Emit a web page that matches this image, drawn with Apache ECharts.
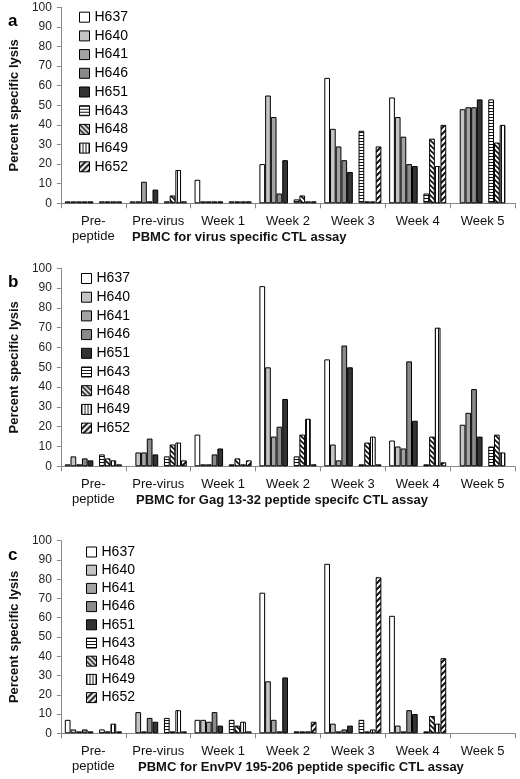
<!DOCTYPE html>
<html><head><meta charset="utf-8">
<script src="https://cdn.jsdelivr.net/npm/echarts@6/dist/echarts.min.js"></script>
<style>html,body{margin:0;padding:0;background:#fff}#c{width:520px;height:779px}</style>
</head><body><div id="c"></div>
<script>
const categories = ['Pre-\npeptide', 'Pre-virus', 'Week 1', 'Week 2', 'Week 3', 'Week 4', 'Week 5'];
const seriesNames = ['H637', 'H640', 'H641', 'H646', 'H651', 'H643', 'H648', 'H649', 'H652'];
const panelLetters = ['a', 'b', 'c'];
const panelTitles = [
  'PBMC for virus specific CTL assay',
  'PBMC for Gag 13-32 peptide specifc CTL assay',
  'PBMC for EnvPV 195-206 peptide specific CTL assay'
];
const yAxisTitle = 'Percent specific lysis';

// Panel a: virus specific
const a_H637 = [1, 1, 12, 20, 64, 54, null];
const a_H640 = [1, 1, 1, 55, 38, 44, 48];
const a_H641 = [1, 11, 1, 44, 29, 34, 49];
const a_H646 = [1, 1, 1, 5, 22, 20, 49];
const a_H651 = [1, 7, 1, 22, 16, 19, 53];
const a_H643 = [1, 1, 1, 2, 37, 5, 53];
const a_H648 = [1, 4, 1, 4, 1, 33, 31];
const a_H649 = [1, 17, 1, 1, 1, 19, 40];
const a_H652 = [1, 1, 1, 1, 29, 40, null];

// Panel b: Gag 13-32
const b_H637 = [1, null, 16, 91, 54, 13, null];
const b_H640 = [5, 7, 1, 50, 11, 10, 21];
const b_H641 = [1, 7, 1, 15, 3, 9, 27];
const b_H646 = [4, 14, 6, 20, 61, 53, 39];
const b_H651 = [3, 6, 9, 34, 50, 23, 15];
const b_H643 = [6, 5, 1, 5, 1, 1, 10];
const b_H648 = [4, 11, 4, 16, 12, 15, 16];
const b_H649 = [3, 12, 1, 24, 15, 70, 7];
const b_H652 = [1, 3, 3, 1, 1, 2, null];

// Panel c: EnvPV 195-206
const c_H637 = [7, null, 7, 73, 88, 61, null];
const c_H640 = [2, 11, 7, 27, 5, 4, null];
const c_H641 = [1, 1, 6, 7, 1, 1, null];
const c_H646 = [2, 8, 11, 1, 2, 12, null];
const c_H651 = [1, 6, 4, 29, 4, 10, null];
const c_H643 = [2, 8, 7, 1, 7, 1, null];
const c_H648 = [1, 1, 4, 1, 1, 9, null];
const c_H649 = [5, 12, 6, 1, 2, 5, null];
const c_H652 = [1, 1, 1, 6, 81, 39, null];

const panelData = [
  [a_H637, a_H640, a_H641, a_H646, a_H651, a_H643, a_H648, a_H649, a_H652],
  [b_H637, b_H640, b_H641, b_H646, b_H651, b_H643, b_H648, b_H649, b_H652],
  [c_H637, c_H640, c_H641, c_H646, c_H651, c_H643, c_H648, c_H649, c_H652]
];

function pattern(kind) {
  const cv = document.createElement('canvas');
  const ctx = cv.getContext('2d');
  if (kind === 'h') {
    cv.width = 4; cv.height = 3;
    ctx.fillStyle = '#fff'; ctx.fillRect(0, 0, 4, 3);
    ctx.fillStyle = '#111'; ctx.fillRect(0, 0, 4, 1);
  } else if (kind === 'v') {
    cv.width = 3; cv.height = 4;
    ctx.fillStyle = '#fff'; ctx.fillRect(0, 0, 3, 4);
    ctx.fillStyle = '#111'; ctx.fillRect(0, 0, 1, 4);
  } else {
    const s = kind === 'b' ? 5 : 6;
    cv.width = s; cv.height = s;
    ctx.fillStyle = '#fff'; ctx.fillRect(0, 0, s, s);
    ctx.strokeStyle = '#111';
    ctx.lineWidth = kind === 'b' ? 1.6 : 2;
    ctx.beginPath();
    if (kind === 'b') {
      ctx.moveTo(0, 0); ctx.lineTo(s, s);
      ctx.moveTo(-s, 0); ctx.lineTo(s, 2 * s);
      ctx.moveTo(0, -s); ctx.lineTo(2 * s, s);
    } else {
      ctx.moveTo(0, s); ctx.lineTo(s, 0);
      ctx.moveTo(-s, s); ctx.lineTo(s, -s);
      ctx.moveTo(0, 2 * s); ctx.lineTo(2 * s, 0);
    }
    ctx.stroke();
  }
  return { image: cv, repeat: 'repeat' };
}

const fills = {
  H637: '#ffffff',
  H640: '#c4c4c4',
  H641: '#a3a3a3',
  H646: '#8a8a8a',
  H651: '#333333',
  H643: pattern('h'),
  H648: pattern('b'),
  H649: pattern('v'),
  H652: pattern('f')
};

const gridTop = [7.3, 268.3, 540.7];
const gridH = [196, 198, 192.6];
const legendTop = [4.2, 265.5, 539];
const legendLeft = [74, 76, 81];
const legendGap = [2.7, 2.7, 2.2];
const letterTop = [13, 274, 547];
const titleLeft = [132, 136, 138];
const titleTop = [231, 494, 761];

const FONT = '"Liberation Sans", Arial, sans-serif';

const grids = [], xAxes = [], yAxes = [], series = [], legends = [], graphics = [];
for (let p = 0; p < 3; p++) {
  grids.push({ left: 60, right: 5, top: gridTop[p], height: gridH[p] });
  xAxes.push({
    type: 'category', gridIndex: p, data: categories,
    axisLine: { lineStyle: { color: '#888', width: 1 } },
    axisTick: { show: true, length: 5, lineStyle: { color: '#888' } },
    axisLabel: { fontSize: 13, lineHeight: 15, color: '#111', fontFamily: FONT, margin: 11, interval: 0 }
  });
  yAxes.push({
    type: 'value', gridIndex: p, min: 0, max: 100, interval: 10,
    name: yAxisTitle, nameLocation: 'middle', nameGap: 33,
    nameTextStyle: { fontSize: 13, fontWeight: 'bold', color: '#111', fontFamily: FONT },
    axisLine: { show: true, lineStyle: { color: '#888', width: 1 } },
    axisTick: { show: true, length: 4, lineStyle: { color: '#888' } },
    splitLine: { show: false },
    axisLabel: { fontSize: 12, color: '#222', fontFamily: FONT, margin: 9 }
  });
  const names = ['H637', 'H640', 'H641', 'H646', 'H651', 'spacer', 'H643', 'H648', 'H649', 'H652'];
  names.forEach(n => {
    const idx = seriesNames.indexOf(n);
    series.push({
      type: 'bar', name: n, xAxisIndex: p, yAxisIndex: p,
      data: idx >= 0 ? panelData[p][idx] : categories.map(() => null),
      barGap: '0%', barCategoryGap: '12%',
      itemStyle: { color: idx >= 0 ? fills[n] : 'transparent', borderColor: '#000', borderWidth: 1 },
      emphasis: { disabled: true },
      animation: false
    });
  });
  legends.push({
    data: seriesNames, orient: 'vertical', left: legendLeft[p], top: legendTop[p],
    icon: 'rect', itemWidth: 10, itemHeight: 10, itemGap: legendGap[p],
    itemStyle: { borderColor: '#000', borderWidth: 1 },
    textStyle: { fontSize: 14, color: '#000', fontFamily: FONT, lineHeight: 16 },
    selectedMode: false
  });
  graphics.push({
    type: 'text', left: 8, top: letterTop[p],
    style: { text: panelLetters[p], font: 'bold 17px ' + FONT, fill: '#000' }
  });
  graphics.push({
    type: 'text', left: titleLeft[p], top: titleTop[p],
    style: { text: panelTitles[p], font: 'bold 13px ' + FONT, fill: '#111' }
  });
}

const chart = echarts.init(document.getElementById('c'), null, { renderer: 'canvas' });
chart.setOption({
  animation: false,
  backgroundColor: '#fff',
  grid: grids, xAxis: xAxes, yAxis: yAxes, series: series, legend: legends,
  graphic: graphics
});
</script>
</body></html>
